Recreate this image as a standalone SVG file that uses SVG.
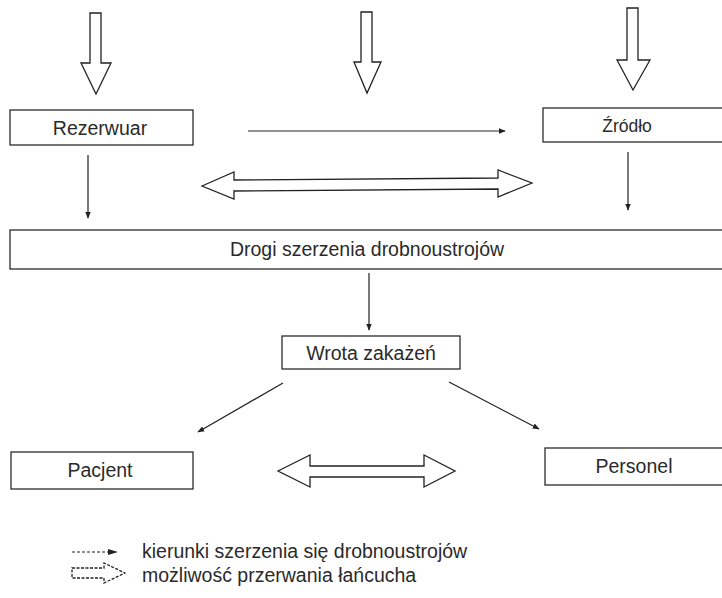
<svg xmlns="http://www.w3.org/2000/svg" width="722" height="598" viewBox="0 0 722 598">
  <defs>
    <marker id="head" viewBox="0 0 10 10" refX="9" refY="5" markerWidth="7" markerHeight="7" markerUnits="userSpaceOnUse" orient="auto">
      <path d="M0,1 L10,5 L0,9 z" fill="#222"/>
    </marker>
    <style>
      .box { fill: #fff; stroke: #2b2b2b; stroke-width: 1.3; }
      .lbl { font-family: "Liberation Sans", Arial, sans-serif; font-size: 19.5px; fill: #2a2a2a; text-anchor: middle; }
      .legend { font-family: "Liberation Sans", Arial, sans-serif; font-size: 19.5px; fill: #2a2a2a; }
      .flow { stroke: #222; stroke-width: 1.2; fill: none; marker-end: url(#head); }
      .hollow { fill: #fff; stroke: #222; stroke-width: 1.3; stroke-linejoin: miter; }
    </style>
  </defs>
  <rect width="722" height="598" fill="#fff"/>

  <!-- external pressure arrows at the top -->
  <g id="top-arrows">
    <polygon class="hollow" points="90,13 101,13 101,63 111,63 96,94 81,63 90,63"/>
    <polygon class="hollow" points="361,12 372,12 372,62 381,62 367,93 354,62 361,62"/>
    <polygon class="hollow" points="627,8 638,8 638,60 650,60 633,90 617,60 627,60"/>
  </g>

  <g id="rezerwuar">
    <rect class="box" x="10" y="110" width="183" height="35"/>
    <text class="lbl" x="100" y="135">Rezerwuar</text>
  </g>
  <g id="zrodlo">
    <rect class="box" x="543" y="108" width="182" height="34"/>
    <text class="lbl" x="627" y="132" style="font-size:17.5px">Źródło</text>
  </g>
  <g id="drogi">
    <rect class="box" x="10" y="230" width="714" height="39"/>
    <text class="lbl" x="367" y="256">Drogi szerzenia drobnoustrojów</text>
  </g>
  <g id="wrota">
    <rect class="box" x="282" y="336" width="178" height="33"/>
    <text class="lbl" x="371" y="360">Wrota zakażeń</text>
  </g>
  <g id="pacjent">
    <rect class="box" x="11" y="452" width="182" height="37"/>
    <text class="lbl" x="100" y="477">Pacjent</text>
  </g>
  <g id="personel">
    <rect class="box" x="545" y="448" width="180" height="37"/>
    <text class="lbl" x="634" y="473">Personel</text>
  </g>

  <!-- spread directions -->
  <g id="connectors">
    <line class="flow" x1="248" y1="131" x2="505" y2="131"/>
    <line class="flow" x1="88" y1="155" x2="88" y2="218"/>
    <line class="flow" x1="628" y1="152" x2="628" y2="210"/>
    <line class="flow" x1="369" y1="273" x2="369" y2="330"/>
    <line class="flow" x1="283" y1="383" x2="198" y2="432"/>
    <line class="flow" x1="449" y1="382" x2="539" y2="429"/>
    <!-- chain-breaking points -->
    <polygon class="hollow" points="202,186 234,172 234,180 498,178 498,170 532,183 498,197 498,189 234,191 234,199"/>
    <polygon class="hollow" points="278,471 310,455 310,466 424,466 424,455 455,471 424,487 424,477 310,477 310,487"/>
  </g>

  <!-- legend -->
  <g id="legend">
    <line x1="72" y1="552" x2="110" y2="552" stroke="#222" stroke-width="1.1" stroke-dasharray="3,2"/>
    <path d="M108,549 L118,552 L108,555 z" fill="#222"/>
    <text class="legend" x="142" y="558">kierunki szerzenia się drobnoustrojów</text>
    <polygon class="hollow" points="72,568 104,568 104,563 125,573 104,583 104,578 72,578" stroke-dasharray="3,1.5"/>
    <text class="legend" x="142" y="582">możliwość przerwania łańcucha</text>
  </g>
</svg>
